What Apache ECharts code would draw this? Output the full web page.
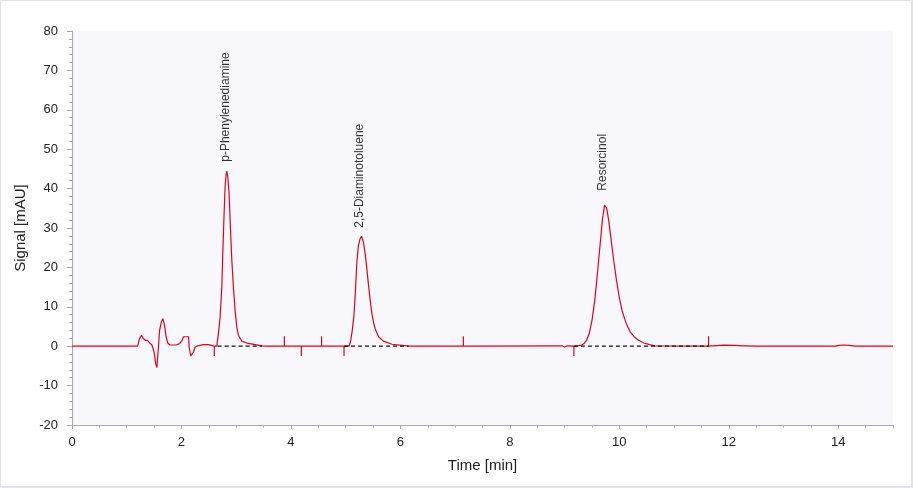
<!DOCTYPE html>
<html>
<head>
<meta charset="utf-8">
<script src="https://cdn.jsdelivr.net/npm/echarts@6/dist/echarts.min.js"></script>
<style>
html,body{margin:0;padding:0;background:#fff;}
#wrap{position:relative;width:913px;height:488px;}
#chart{position:absolute;left:0;top:0;width:913px;height:488px;}
#frame{position:absolute;left:0;top:0;width:913px;height:488px;box-sizing:border-box;border:1px solid #e2e2ea;border-right-width:2px;border-bottom-width:2px;pointer-events:none;}
</style>
</head>
<body>
<div id="wrap"><div id="chart"></div><div id="frame"></div></div>
<script>
// Chromatogram trace: time [min] and signal [mAU]
const time = [
  0, 0.92, 0.93, 0.94, 1.20, 1.23, 1.27, 1.30, 1.34, 1.38, 1.42, 1.46, 1.50, 1.53, 1.55, 1.57, 1.60, 1.63, 1.66, 1.69, 1.72, 1.75, 1.79, 1.90, 1.97, 2.01, 2.04, 2.13, 2.14, 2.17, 2.19, 2.22, 2.25, 2.30, 2.40, 2.49, 2.52,
  2.60, 2.60, 2.60,
  2.645, 2.675, 2.706, 2.737, 2.755, 2.779, 2.797, 2.815, 2.83, 2.846, 2.87, 2.894, 2.92, 2.949, 2.98, 3.01, 3.04, 3.10, 3.22, 3.35, 3.47, 3.55,
  3.88, 3.88, 3.88,
  4.19, 4.19, 4.19,
  4.56, 4.56, 4.56,
  4.97, 4.97, 4.97,
  5.06, 5.09, 5.12, 5.15, 5.18, 5.205, 5.234, 5.265, 5.29, 5.325, 5.356, 5.387, 5.417, 5.448, 5.479, 5.51, 5.54, 5.60, 5.69, 5.845, 6.03, 6.15,
  7.15, 7.15, 7.15,
  8.95, 9.00, 9.05,
  9.17, 9.17, 9.17,
  9.30, 9.35, 9.40, 9.45, 9.50, 9.55, 9.60, 9.65, 9.69, 9.73, 9.77, 9.81, 9.85, 9.90, 9.95, 10.00, 10.05, 10.10, 10.15, 10.20, 10.27, 10.35, 10.45, 10.55, 10.65,
  11.63, 11.63, 11.63,
  11.65, 11.90, 12.10, 12.30, 12.50, 13.95, 14.00, 14.10, 14.20, 14.30, 15.00
];
const signal = [
  0, 0, -0.3, 0, 0, 1.8, 2.8, 2.0, 1.5, 1.5, 0.8, 0.3, -1.5, -4.5, -5.4, -2.0, 4.0, 6.0, 7.0, 5.3, 2.4, 0.8, 0.3, 0.3, 0.7, 1.5, 2.4, 2.4, -0.2, -2.5, -3.0, -1.4, -0.2, 0.1, 0.4, 0.4, 0.0,
  0, -2.5, 0,
  0, 3.2, 7.4, 15.0, 23.5, 33.7, 40.4, 43.6, 44.4, 43.0, 38.8, 30.3, 21.8, 15.0, 9.1, 4.9, 2.8, 1.3, 0.7, 0.4, 0.1, 0,
  0, 2.5, 0,
  0, -2.5, 0,
  0, 2.5, 0,
  0, -2.5, 0,
  0, 1.2, 4.0, 7.5, 14.5, 21.5, 25.6, 27.3, 27.9, 26.4, 23.5, 19.7, 15.5, 11.7, 8.3, 6.0, 4.4, 2.4, 1.3, 0.5, 0.2, 0,
  0, 2.5, 0,
  0.1, -0.2, 0.1,
  0, -2.5, 0,
  0.2, 0.6, 1.5, 3.2, 6.5, 11.5, 18.5, 26.0, 32.0, 35.8, 35.0, 31.5, 27.0, 21.5, 16.5, 12.3, 9.0, 6.8, 5.0, 3.6, 2.4, 1.5, 0.8, 0.4, 0.1,
  0, 2.5, 0,
  0.2, 0.25, 0.2, 0.1, 0.0, 0.0, 0.2, 0.3, 0.2, 0.0, 0.0
];
// Integration baselines (start, end) for each peak
const baseStart = [2.66, 4.97, 9.17];
const baseEnd = [3.47, 6.15, 11.63];
// Peak annotations
const peakNames = ['p-Phenylenediamine', '2,5-Diaminotoluene', 'Resorcinol'];
const peakTimes = [2.80, 5.26, 9.69];
const peakHeights = [44.4, 27.9, 35.8];
// Tick labels
const xTickValues = [0, 2, 4, 6, 8, 10, 12, 14];

const trace = time.map((t, i) => [t, signal[i]]);
const labelGaps = [9, 8, 14];

const baselineSeries = baseStart.map((s, i) => ({
  type: 'line',
  xAxisIndex: 0,
  data: [[s, 0], [baseEnd[i], 0]],
  showSymbol: false,
  silent: true,
  lineStyle: { color: '#111', width: 1.2, type: [4, 3] },
  z: 5
}));

const chart = echarts.init(document.getElementById('chart'), null, { renderer: 'canvas' });
const font = 'Liberation Sans, Arial, sans-serif';
chart.setOption({
  animation: false,
  backgroundColor: '#ffffff',
  textStyle: { fontFamily: font },
  grid: { left: 72, right: 20, top: 31, bottom: 63, show: true, backgroundColor: '#f8f8fc', borderWidth: 0 },
  xAxis: [
    {
      type: 'value', min: 0, max: 15, interval: 2, position: 'bottom',
      name: 'Time [min]', nameLocation: 'middle', nameGap: 33,
      nameTextStyle: { fontSize: 15, color: '#222', fontFamily: font },
      axisLine: { show: true, onZero: false, lineStyle: { color: '#a8a8a8', width: 1 } },
      axisTick: { show: true, length: 4, lineStyle: { color: '#a8a8a8' }, customValues: xTickValues },
      axisLabel: { fontSize: 13, color: '#222', margin: 11, customValues: xTickValues, fontFamily: font },
      splitLine: { show: false }
    },
    {
      type: 'value', min: 0, max: 15, interval: 0.5, position: 'bottom', offset: 0,
      axisLine: { show: false, onZero: false },
      axisTick: { show: true, length: 2.5, lineStyle: { color: '#a8a8a8' } },
      axisLabel: { show: false },
      splitLine: { show: false }
    }
  ],
  yAxis: {
    type: 'value', min: -20, max: 80, interval: 10,
    name: 'Signal [mAU]', nameLocation: 'middle', nameGap: 44,
    nameTextStyle: { fontSize: 15, color: '#222', fontFamily: font },
    axisLine: { show: true, onZero: false, lineStyle: { color: '#a8a8a8', width: 1 } },
    axisTick: { show: true, length: 5, lineStyle: { color: '#a8a8a8' } },
    minorTick: { show: true, splitNumber: 5, length: 3, lineStyle: { color: '#a8a8a8' } },
    axisLabel: { fontSize: 13, color: '#222', margin: 14, fontFamily: font },
    splitLine: { show: false }
  },
  series: [
    {
      type: 'line',
      xAxisIndex: 0,
      data: trace,
      showSymbol: false,
      silent: true,
      lineStyle: { color: '#e3001b', width: 1.2 },
      z: 3
    },
    ...baselineSeries,
    {
      type: 'scatter',
      xAxisIndex: 0,
      data: peakTimes.map((t, i) => ({ value: [t, peakHeights[i]], name: peakNames[i], label: { distance: labelGaps[i] } })),
      symbolSize: 1,
      itemStyle: { color: 'rgba(0,0,0,0)' },
      silent: true,
      label: {
        show: true,
        position: 'top',
        distance: 9,
        rotate: 90,
        align: 'left',
        verticalAlign: 'middle',
        formatter: p => p.name,
        fontSize: 12,
        color: '#000',
        fontFamily: font
      },
      z: 6
    }
  ]
});
</script>
</body>
</html>
